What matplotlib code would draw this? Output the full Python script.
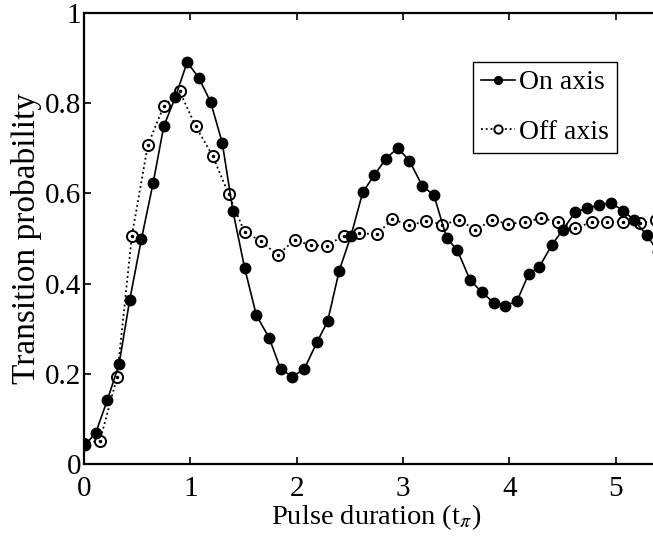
import numpy as np
import matplotlib.pyplot as plt

# on-axis measurement (filled markers, solid line)
t_on = [0.01, 0.11, 0.22, 0.33, 0.43, 0.54, 0.65, 0.75, 0.86, 0.97,
        1.08, 1.19, 1.30, 1.40, 1.51, 1.62, 1.74, 1.85, 1.96, 2.07,
        2.19, 2.29, 2.40, 2.51, 2.62, 2.73, 2.84, 2.95, 3.06, 3.18,
        3.29, 3.41, 3.51, 3.63, 3.74, 3.85, 3.96, 4.07, 4.18, 4.28,
        4.40, 4.50, 4.62, 4.73, 4.84, 4.95, 5.07, 5.17, 5.29, 5.40]
p_on = [0.042, 0.069, 0.142, 0.222, 0.364, 0.499, 0.623, 0.749, 0.814, 0.891,
        0.856, 0.803, 0.712, 0.561, 0.435, 0.330, 0.280, 0.210, 0.194, 0.210,
        0.270, 0.316, 0.429, 0.506, 0.602, 0.641, 0.677, 0.701, 0.672, 0.617,
        0.596, 0.501, 0.474, 0.408, 0.381, 0.358, 0.351, 0.361, 0.421, 0.437,
        0.486, 0.519, 0.559, 0.567, 0.574, 0.579, 0.562, 0.541, 0.508, 0.47]

# off-axis measurement (open markers, dotted line)
t_off = [0.0, 0.15, 0.31, 0.45, 0.60, 0.75, 0.90, 1.05, 1.21, 1.36,
         1.51, 1.66, 1.82, 1.98, 2.13, 2.28, 2.44, 2.59, 2.75, 2.90,
         3.06, 3.22, 3.37, 3.53, 3.68, 3.84, 3.99, 4.15, 4.30, 4.46,
         4.62, 4.78, 4.92, 5.07, 5.23, 5.38]
p_off = [0.045, 0.052, 0.192, 0.506, 0.707, 0.794, 0.826, 0.749, 0.683, 0.598,
         0.514, 0.495, 0.463, 0.497, 0.485, 0.484, 0.506, 0.512, 0.509, 0.543,
         0.529, 0.539, 0.531, 0.541, 0.519, 0.541, 0.532, 0.537, 0.545, 0.537,
         0.523, 0.537, 0.537, 0.537, 0.534, 0.540]

x_ticks = [0, 1, 2, 3, 4, 5]
y_ticks = [0, 0.2, 0.4, 0.6, 0.8, 1]
y_ticklabels = ['0', '0.2', '0.4', '0.6', '0.8', '1']

plt.rcParams['font.family'] = ['Liberation Serif', 'DejaVu Serif']
plt.rcParams['mathtext.fontset'] = 'stix'

fig = plt.figure(figsize=(6.53, 5.36), dpi=100)
ax = fig.add_axes([84 / 653, 72 / 536, 585 / 653, 451 / 536])

ax.plot(t_on, p_on, '-', color='black', lw=1.2, marker='o', ms=7.5,
        mfc='black', mec='black', label='On axis', zorder=3)
ax.plot(t_off, p_off, ':', color='black', lw=1.3, marker='o', ms=8,
        mfc='white', mec='black', mew=1.4, label='Off axis', zorder=2)
ax.plot(t_off, p_off, 'o', color='black', ms=1.5, zorder=2.5)

ax.set_xlim(0, 5.5)
ax.set_ylim(0, 1)
ax.set_xticks(x_ticks)
ax.set_yticks(y_ticks)
ax.set_yticklabels(y_ticklabels)
ax.tick_params(direction='in', top=True, right=True, length=5, width=1.2,
               labelsize=21, pad=2)
ax.tick_params(axis='x', pad=9)
for s in ax.spines.values():
    s.set_linewidth(1.6)

ax.set_xlabel('Pulse duration (t$_{\\pi}$)', fontsize=20.5, labelpad=0)
ax.set_ylabel('Transition probability', fontsize=24, labelpad=2)

leg = ax.legend(loc='upper right', bbox_to_anchor=(0.911, 0.892), fontsize=20,
                handlelength=1.2, handletextpad=0.15, borderpad=0.3,
                labelspacing=0.85, fancybox=False, framealpha=1,
                borderaxespad=0, markerscale=0.75)
leg.get_frame().set_edgecolor('black')
leg.get_frame().set_linewidth(1.0)

fig.savefig('out.png', dpi=100)
